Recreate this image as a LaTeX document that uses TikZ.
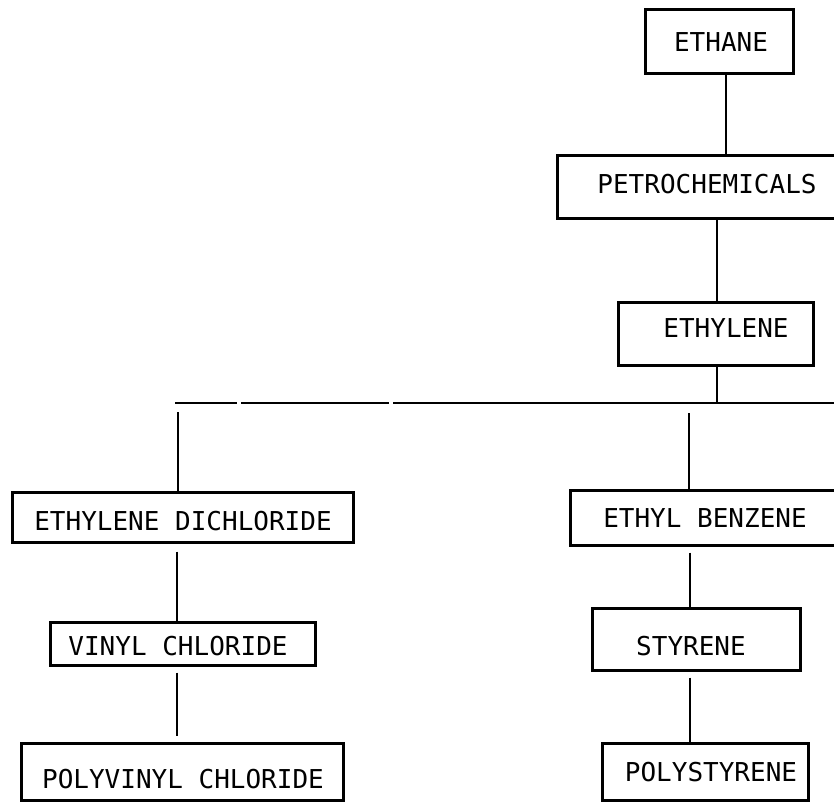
\documentclass[tikz,border=0pt]{standalone}
\usepackage{fontspec}
\newfontfamily\monofont{DejaVu Sans Mono}
\begin{document}
\begin{tikzpicture}[x=1pt,y=-1pt,
  box/.style={draw, line width=3pt, inner sep=0pt, minimum width=#1},
  lbl/.style={inner sep=0pt, font=\monofont\fontsize{26}{26}\selectfont},
  conn/.style={line width=2.6pt}]
\useasboundingbox (0,0) rectangle (834,804);
% boxes
\node[box=148, minimum height=64] (ethane) at (719,41) {};
\node[box=303, minimum height=63] (petro) at (708.5,186.5) {};
\node[box=195, minimum height=63] (ethylene) at (715.5,333.5) {};
\node[box=341, minimum height=50] (edc) at (182.5,517) {};
\node[box=265, minimum height=43] (vc) at (182.5,643.5) {};
\node[box=322, minimum height=57] (pvc) at (182,771.5) {};
\node[box=300, minimum height=55] (eb) at (720,517.5) {};
\node[box=208, minimum height=62] (sty) at (696,639) {};
\node[box=206, minimum height=57] (ps) at (705,771.5) {};
% labels
\node[lbl] (ethaneT) at (721,42.5) {ETHANE};
\node[lbl] (petroT) at (707,184) {PETROCHEMICALS};
\node[lbl] (ethyleneT) at (726,328) {ETHYLENE};
\node[lbl] (edcT) at (183,521) {ETHYLENE DICHLORIDE};
\node[lbl] (vcT) at (178,646) {VINYL CHLORIDE};
\node[lbl] (pvcT) at (183,779) {POLYVINYL CHLORIDE};
\node[lbl] (ebT) at (705,518) {ETHYL BENZENE};
\node[lbl] (styT) at (691,646) {STYRENE};
\node[lbl] (psT) at (711,772) {POLYSTYRENE};
% column coordinates
\coordinate (c1) at (726,0);
\coordinate (c2) at (717,0);
\coordinate (cl) at (177,0);
\coordinate (cm) at (690,0);
% bus
\coordinate (busL) at (175,403);
\coordinate (g1a) at (237,403);
\coordinate (g1b) at (241,403);
\coordinate (g2a) at (389,403);
\coordinate (g2b) at (393,403);
\coordinate (busR) at (860,403);
\coordinate (dropL) at (178,412);
\coordinate (dropM) at (689,413);
% connectors
\draw[conn] (ethane.south -| c1) -- (petro.north -| c1);
\draw[conn] (petro.south -| c2) -- (ethylene.north -| c2);
\draw[conn] (ethylene.south -| c2) -- (busR -| c2);
\draw[conn] (busL) -- (g1a);
\draw[conn] (g1b) -- (g2a);
\draw[conn] (g2b) -- (busR);
\draw[conn] (dropL) -- (edc.north -| dropL);
\draw[conn] (dropM) -- (eb.north -| dropM);
\draw[conn] ([yshift=-8pt]edc.south -| cl) -- (vc.north -| cl);
\draw[conn] ([yshift=-6pt]vc.south -| cl) -- ([yshift=6pt]pvc.north -| cl);
\draw[conn] ([yshift=-6pt]eb.south -| cm) -- (sty.north -| cm);
\draw[conn] ([yshift=-6pt]sty.south -| cm) -- (ps.north -| cm);
\end{tikzpicture}
\end{document}
